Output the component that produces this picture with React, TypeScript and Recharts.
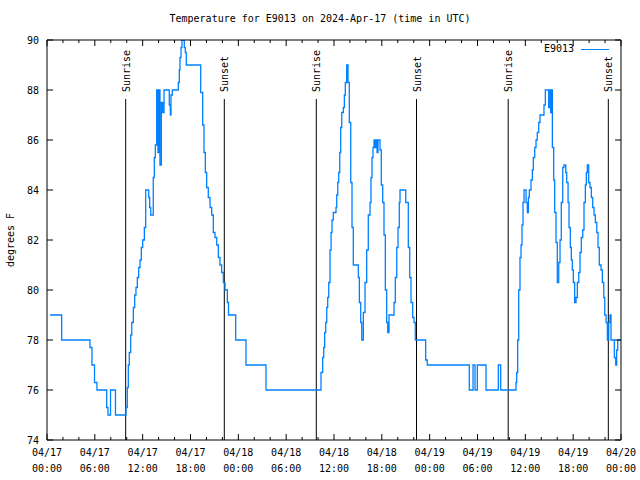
import React from "react";
import { LineChart, Line, XAxis, YAxis, ReferenceLine } from "recharts";

// hours since 04/17 00:00 UTC, and temperature (F) from that point on
const hours = [
  0.38, 1.84, 5.39, 5.64, 5.96, 6.27, 7.49, 7.65, 7.97, 8.59,
  9.91, 10.07, 10.2, 10.32, 10.5, 10.63, 10.83, 11.0, 11.16, 11.33,
  11.5, 11.67, 11.83, 12.0, 12.21, 12.38, 12.76, 12.88, 13.01, 13.33,
  13.46, 13.59, 13.76, 13.92, 14.05, 14.17, 14.34, 14.51, 14.68, 15.34,
  15.47, 15.55, 15.72, 16.47, 16.6, 16.68, 16.81, 16.93, 17.22, 17.35,
  17.47, 19.28, 19.53, 19.69, 19.86, 20.03, 20.23, 20.45, 20.66, 20.86,
  21.07, 21.29, 21.49, 21.7, 21.91, 22.12, 22.33, 22.62, 22.77, 23.67,
  24.96, 27.47, 34.37, 34.58, 34.71, 34.83, 34.96, 35.09, 35.21, 35.34,
  35.5, 35.63, 35.75, 35.91, 36.25, 36.34, 36.47, 36.59, 36.72, 36.84,
  36.97, 37.17, 37.3, 37.42, 37.59, 37.76, 37.92, 38.1, 38.26, 38.42,
  39.05, 39.18, 39.35, 39.48, 39.68, 39.89, 40.1, 40.3, 40.52, 40.64,
  40.77, 40.89, 41.02, 41.18, 41.27, 41.4, 41.52, 41.77, 41.93, 42.11,
  42.27, 42.44, 42.61, 42.74, 42.9, 43.53, 43.69, 43.87, 44.03, 44.19,
  44.28, 45.0, 45.32, 45.5, 45.66, 45.87, 46.04, 46.2, 47.5, 47.7,
  52.97, 53.44, 53.69, 53.98, 55.07, 56.61, 56.91, 58.83, 58.92, 59.04,
  59.17, 59.33, 59.46, 59.58, 59.71, 59.84, 60.09, 60.25, 60.38, 60.5,
  60.71, 60.88, 61.0, 61.18, 61.34, 61.5, 61.68, 61.84, 62.34, 62.51,
  62.93, 63.1, 63.18, 63.26, 63.39, 63.56, 63.68, 63.85, 64.01, 64.19,
  64.35, 64.51, 64.69, 64.85, 65.07, 65.19, 65.36, 65.48, 65.64, 65.77,
  65.89, 66.02, 66.19, 66.36, 66.52, 66.7, 66.86, 67.02, 67.2, 67.36,
  67.53, 67.65, 67.78, 67.95, 68.11, 68.28, 68.45, 68.62, 68.78, 68.96,
  69.12, 69.28, 69.5, 69.66, 69.84, 69.96, 70.13, 70.29, 70.46, 70.62,
  70.75, 71.16, 71.34, 71.46, 71.59, 72.0,
];
const tempF = [
  79, 78, 77.7, 77, 76.3, 76, 75.3, 75, 76, 75,
  75.3, 76.1, 77, 77.5, 78.2, 78.7, 79.3, 79.8, 80.1, 80.5,
  80.9, 81.2, 81.7, 82, 82.5, 84, 83.7, 83.3, 83, 84.5,
  85.3, 85.8, 88, 85.5, 88, 85, 87.5, 87.1, 88, 87.4,
  87, 87.8, 88, 88.3, 88.8, 89.3, 89.7, 90, 89.7, 89.5,
  89, 87.9, 86.6, 85.5, 84.7, 84.1, 83.7, 83.3, 83, 82.3,
  82.1, 81.8, 81.3, 81, 80.7, 80.3, 80, 79.5, 79, 78,
  77, 76, 76.7, 77.3, 77.7, 78.3, 78.7, 79.3, 79.7, 80.3,
  81.6, 82.3, 82.8, 83.1, 83.3, 83.8, 84.3, 84.7, 85.5, 86.5,
  87.1, 87.3, 87.8, 88.3, 89, 88.3, 86.7, 84.3, 82.5, 81,
  80.5, 79.5, 78.7, 78, 79.1, 80.3, 81.6, 83, 83.5, 84.5,
  85.3, 85.7, 86, 85.7, 86, 85.5, 86, 85.6, 84.2, 83.5,
  82.2, 80, 78.7, 78.3, 79, 79.5, 80.5, 81.7, 82.5, 83.5,
  84, 83.5, 81.7, 80.5, 79.5, 78.9, 78.7, 78, 77.2, 77,
  76, 77, 76, 77, 76, 77, 76, 76.3, 76.7, 78,
  80, 81.3, 81.8, 82.6, 83.5, 84, 83.5, 83.1, 83.7, 84,
  84.4, 84.8, 85.3, 85.7, 86, 86.3, 86.7, 87, 87.4, 88,
  87.3, 88, 87.1, 88, 85.7, 84.4, 83.1, 81.9, 80.3, 81.1,
  82, 83.5, 84.9, 85, 84.7, 84.3, 83.5, 82.5, 81.7, 81.2,
  80.8, 80.3, 79.5, 79.7, 80.3, 80.7, 81.5, 82.1, 82.4, 83.5,
  84.2, 84.7, 85, 84.3, 84.1, 83.7, 83.3, 83, 82.7, 82.3,
  81.7, 81, 80.8, 80.3, 79.7, 79, 78.7, 78, 78.7, 79,
  78, 77.3, 77, 77.6, 78, 78,
];

const sunHours = [9.87, 22.24, 33.78, 46.35, 57.85, 70.41];
const sunLabels = ["Sunrise", "Sunset", "Sunrise", "Sunset", "Sunrise", "Sunset"];
const sunLineTop = 87.64;

const xTicks = Array.from({ length: 37 }, (_, i) => i * 2);
const xTickDates = ["04/17", "04/17", "04/17", "04/17", "04/18", "04/18", "04/18", "04/18", "04/19", "04/19", "04/19", "04/19", "04/20"];
const xTickTimes = ["00:00", "06:00", "12:00", "18:00", "00:00", "06:00", "12:00", "18:00", "00:00", "06:00", "12:00", "18:00", "00:00"];
const yTicks = [74, 76, 78, 80, 82, 84, 86, 88, 90];

const data = hours.map((h, i) => ({ h, t: tempF[i] }));

const FONT = "'DejaVu Sans Mono', 'Liberation Mono', monospace";
const LINE = "#0080ff";

const BottomTick = (props: any) => {
  const { x, y, payload } = props;
  const v = payload.value;
  const major = v % 6 === 0;
  const k = v / 6;
  return (
    <g>
      <line x1={x} x2={x} y1={y} y2={y - (major ? 6 : 3)} stroke="#000" />
      {major && (
        <text x={x} y={y + 16} textAnchor="middle" fontFamily={FONT} fontSize={10} fill="#000">
          <tspan x={x}>{xTickDates[k]}</tspan>
          <tspan x={x} dy={16}>{xTickTimes[k]}</tspan>
        </text>
      )}
    </g>
  );
};

const TopTick = (props: any) => {
  const { x, y, payload } = props;
  const major = payload.value % 6 === 0;
  return <line x1={x} x2={x} y1={y} y2={y + (major ? 6 : 3)} stroke="#000" />;
};

const LeftTick = (props: any) => {
  const { x, y, payload } = props;
  return (
    <g>
      <line x1={x} x2={x + 6} y1={y} y2={y} stroke="#000" />
      <text x={x - 8} y={y + 4} textAnchor="end" fontFamily={FONT} fontSize={10} fill="#000">
        {payload.value}
      </text>
    </g>
  );
};

const RightTick = (props: any) => {
  const { x, y } = props;
  return <line x1={x} x2={x - 6} y1={y} y2={y} stroke="#000" />;
};

const sunShape = (label: string) => (p: any) => (
  <g>
    <line x1={p.x1} y1={p.y1} x2={p.x2} y2={p.y2} stroke="#000" strokeWidth={1} />
    <text
      x={p.x1 + 4}
      y={Math.min(p.y1, p.y2) - 7}
      transform={`rotate(-90 ${p.x1 + 4} ${Math.min(p.y1, p.y2) - 7})`}
      fontFamily={FONT}
      fontSize={10}
      fill="#000"
    >
      {label}
    </text>
  </g>
);

export default function App() {
  return (
    <div style={{ position: "absolute", left: 0, top: 0, width: 640, height: 480, background: "#fff", fontFamily: FONT }}>
      <div style={{ position: "absolute", top: 12, left: 0, width: 640, textAlign: "center", fontSize: 10, lineHeight: "14px" }}>
        Temperature for E9013 on 2024-Apr-17 (time in UTC)
      </div>
      <div
        style={{
          position: "absolute",
          left: 10,
          top: 240,
          fontSize: 10,
          whiteSpace: "nowrap",
          transform: "translate(-50%, -50%) rotate(-90deg)",
        }}
      >
        degrees F
      </div>
      <div style={{ position: "absolute", top: 42, left: 544, display: "flex", alignItems: "center", fontSize: 10, lineHeight: "14px" }}>
        <span>E9013</span>
        <span style={{ display: "inline-block", width: 28, height: 0, borderTop: `1.3px solid ${LINE}`, marginLeft: 7 }} />
      </div>
      <LineChart width={640} height={480} data={data} margin={{ top: 0, right: 0, bottom: 0, left: 0 }}>
        <XAxis
          dataKey="h"
          type="number"
          domain={[0, 72]}
          ticks={xTicks}
          interval={0}
          height={40}
          tickSize={0}
          tickMargin={0}
          tickLine={false}
          axisLine={{ stroke: "#000" }}
          tick={<BottomTick />}
          allowDataOverflow
        />
        <XAxis
          xAxisId="top"
          orientation="top"
          dataKey="h"
          type="number"
          domain={[0, 72]}
          ticks={xTicks}
          interval={0}
          height={40}
          tickSize={0}
          tickMargin={0}
          tickLine={false}
          axisLine={{ stroke: "#000" }}
          tick={<TopTick />}
          allowDataOverflow
        />
        <YAxis
          type="number"
          domain={[74, 90]}
          ticks={yTicks}
          interval={0}
          width={47}
          tickSize={0}
          tickMargin={0}
          tickLine={false}
          axisLine={{ stroke: "#000" }}
          tick={<LeftTick />}
          allowDataOverflow
        />
        <YAxis
          yAxisId="right"
          orientation="right"
          type="number"
          domain={[74, 90]}
          ticks={yTicks}
          interval={0}
          width={19}
          tickSize={0}
          tickMargin={0}
          tickLine={false}
          axisLine={{ stroke: "#000" }}
          tick={<RightTick />}
          allowDataOverflow
        />
        {sunHours.map((h, i) => (
          <ReferenceLine
            key={i}
            segment={[
              { x: h, y: 74 },
              { x: h, y: sunLineTop },
            ]}
            stroke="#000"
            shape={sunShape(sunLabels[i])}
          />
        ))}
        <Line
          type="stepAfter"
          dataKey="t"
          stroke={LINE}
          strokeWidth={1.3}
          dot={false}
          activeDot={false}
          isAnimationActive={false}
        />
      </LineChart>
    </div>
  );
}
